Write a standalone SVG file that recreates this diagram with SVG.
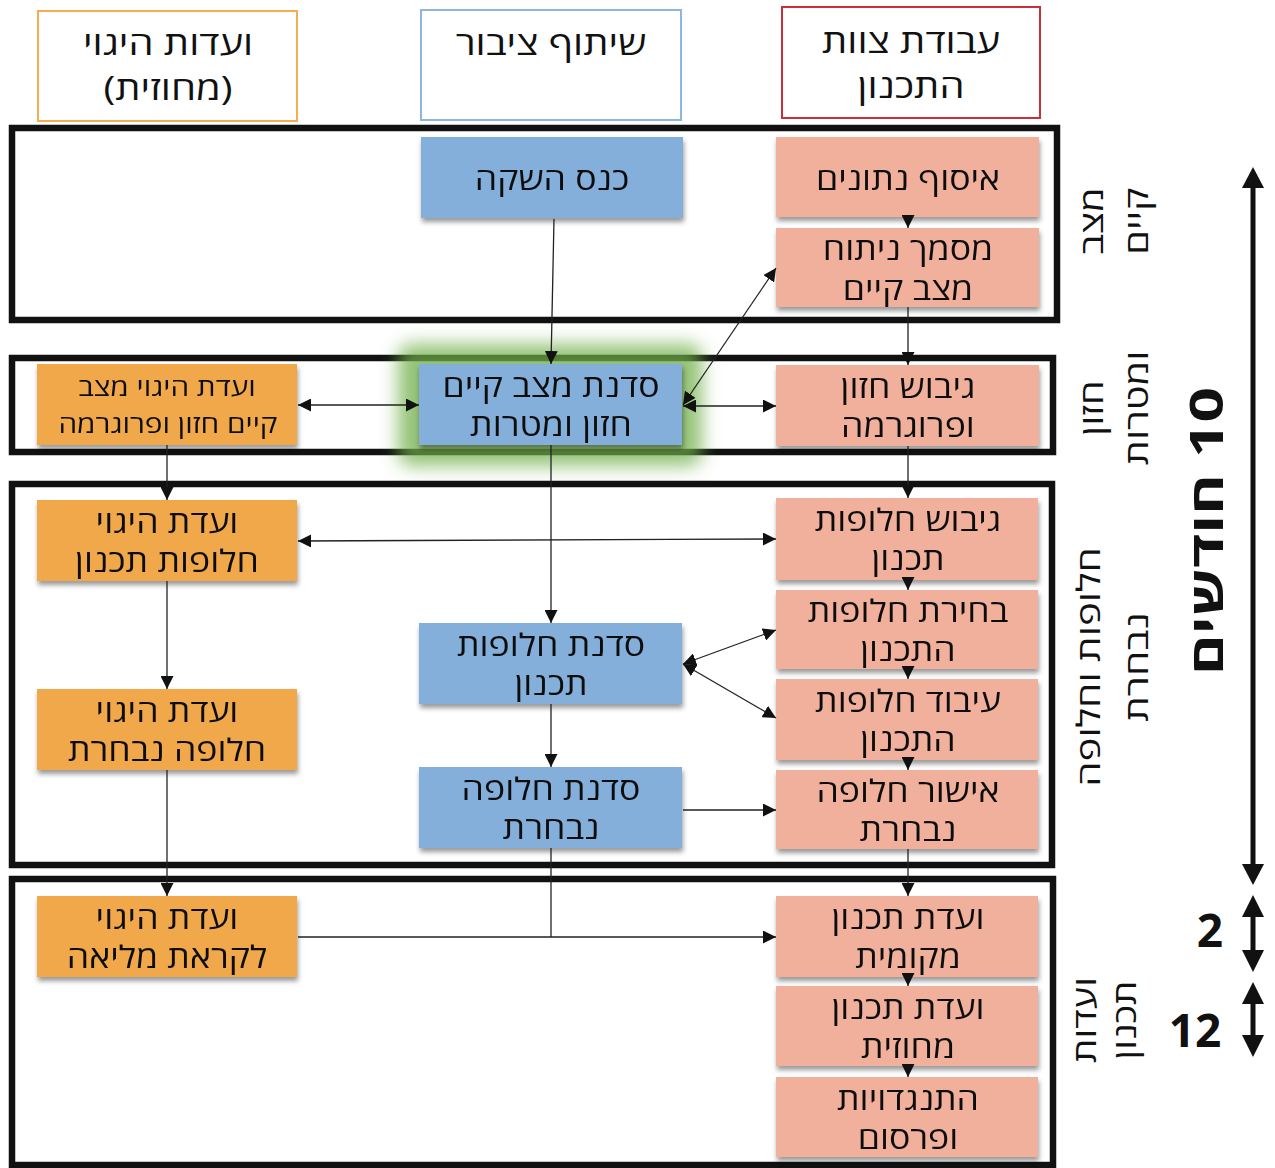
<svg xmlns="http://www.w3.org/2000/svg" width="1275" height="1168" viewBox="0 0 1275 1168">
<style>
.t{font-family:"Open Sans","Noto Sans Hebrew","DejaVu Sans",sans-serif;fill:#111;direction:rtl;text-anchor:middle}
.n{font-size:31px;transform-box:fill-box;transform-origin:center;transform:scaleX(1.15)}
.h{font-size:33px;transform-box:fill-box;transform-origin:center;transform:scaleX(1.21)}
.s{font-size:25px;transform-box:fill-box;transform-origin:center;transform:scaleX(1.19)}
.side{font-size:32px}
.big{font-size:46px;font-weight:bold}
.frame{fill:none;stroke:#111;stroke-width:6.5}
.sal{fill:#F1B09B}
.blu{fill:#83AFDA}
.org{fill:#F1A84B}
.c{fill:none;stroke:#222;stroke-width:1.3}
.bi{marker-start:url(#ah);marker-end:url(#ah)}
.one{marker-end:url(#ah)}
</style>
<defs>
<marker id="ah" viewBox="0 0 12 12" refX="12" refY="6" markerWidth="13" markerHeight="13" orient="auto-start-reverse" markerUnits="userSpaceOnUse"><path d="M0,0 L12,6 L0,12 z" fill="#111"/></marker>
<filter id="sh" x="-10%" y="-20%" width="125%" height="150%"><feDropShadow dx="1" dy="4" stdDeviation="2.5" flood-color="#000" flood-opacity="0.4"/></filter>
<filter id="glow" x="-30%" y="-60%" width="160%" height="220%"><feGaussianBlur stdDeviation="9"/></filter>
</defs>
<rect width="1275" height="1168" fill="#fff"/>

<g id="headers">
<g id="hdr-steering"><rect x="38" y="11" width="259" height="110" fill="#fff" stroke="#F4AD52" stroke-width="2"/><text class="t h" x="168" y="55">ועדות היגוי</text><text class="t h" x="168" y="100">(מחוזית)</text></g>
<g id="hdr-public"><rect x="421" y="10" width="260" height="110" fill="#fff" stroke="#8DB4E2" stroke-width="2"/><text class="t h" x="551" y="55">שיתוף ציבור</text></g>
<g id="hdr-team"><rect x="782" y="7" width="258" height="111" fill="#fff" stroke="#C9303E" stroke-width="2"/><text class="t h" x="911" y="53">עבודת צוות</text><text class="t h" x="911" y="98">התכנון</text></g>
</g>

<g id="frames">
<rect class="frame" x="12" y="128" width="1045" height="192"/>
<rect class="frame" x="12" y="358" width="1041" height="94"/>
<rect class="frame" x="12" y="484" width="1040" height="381"/>
<rect class="frame" x="12" y="879" width="1041" height="286"/>
</g>

<rect id="glow-halo" x="398" y="344" width="304" height="122" rx="14" fill="#6FAE4A" opacity="0.75" filter="url(#glow)"/>

<g id="nodes" filter="url(#sh)">
<g id="n-data"><rect class="sal" x="776" y="137" width="263" height="80"/><text class="t n" x="908" y="190">איסוף נתונים</text></g>
<g id="n-analysis"><rect class="sal" x="776" y="228" width="263" height="79"/><text class="t n" x="908" y="260">מסמך ניתוח</text><text class="t n" x="908" y="300">מצב קיים</text></g>
<g id="n-vision"><rect class="sal" x="776" y="365" width="263" height="81"/><text class="t n" x="908" y="398">גיבוש חזון</text><text class="t n" x="908" y="437">ופרוגרמה</text></g>
<g id="n-alts"><rect class="sal" x="776" y="498" width="262" height="82"/><text class="t n" x="908" y="531">גיבוש חלופות</text><text class="t n" x="908" y="570">תכנון</text></g>
<g id="n-choose"><rect class="sal" x="776" y="590" width="262" height="79"/><text class="t n" x="908" y="622">בחירת חלופות</text><text class="t n" x="908" y="661">התכנון</text></g>
<g id="n-process"><rect class="sal" x="776" y="679" width="262" height="81"/><text class="t n" x="908" y="712">עיבוד חלופות</text><text class="t n" x="908" y="751">התכנון</text></g>
<g id="n-approve"><rect class="sal" x="776" y="770" width="262" height="79"/><text class="t n" x="908" y="802">אישור חלופה</text><text class="t n" x="908" y="841">נבחרת</text></g>
<g id="n-local"><rect class="sal" x="776" y="896" width="262" height="81"/><text class="t n" x="908" y="929">ועדת תכנון</text><text class="t n" x="908" y="968">מקומית</text></g>
<g id="n-district"><rect class="sal" x="776" y="986" width="262" height="80"/><text class="t n" x="908" y="1019">ועדת תכנון</text><text class="t n" x="908" y="1058">מחוזית</text></g>
<g id="n-objections"><rect class="sal" x="776" y="1077" width="262" height="80"/><text class="t n" x="908" y="1110">התנגדויות</text><text class="t n" x="908" y="1149">ופרסום</text></g>

<g id="n-launch"><rect class="blu" x="421" y="137" width="262" height="81"/><text class="t n" x="552" y="190">כנס השקה</text></g>
<g id="n-ws-vision"><rect class="blu" x="419" y="364" width="263" height="81"/><text class="t n" x="551" y="397">סדנת מצב קיים</text><text class="t n" x="551" y="436">חזון ומטרות</text></g>
<g id="n-ws-alts"><rect class="blu" x="419" y="623" width="263" height="81"/><text class="t n" x="551" y="656">סדנת חלופות</text><text class="t n" x="551" y="695">תכנון</text></g>
<g id="n-ws-chosen"><rect class="blu" x="419" y="767" width="263" height="81"/><text class="t n" x="551" y="800">סדנת חלופה</text><text class="t n" x="551" y="839">נבחרת</text></g>

<g id="n-sc-vision"><rect class="org" x="37" y="364" width="260" height="81"/><text class="t s" x="167" y="396">ועדת היגוי מצב</text><text class="t s" x="168" y="433">קיים חזון ופרוגרמה</text></g>
<g id="n-sc-alts"><rect class="org" x="37" y="500" width="260" height="81"/><text class="t n" x="167" y="533">ועדת היגוי</text><text class="t n" x="167" y="572">חלופות תכנון</text></g>
<g id="n-sc-chosen"><rect class="org" x="37" y="689" width="260" height="81"/><text class="t n" x="167" y="722">ועדת היגוי</text><text class="t n" x="167" y="761">חלופה נבחרת</text></g>
<g id="n-sc-plenum"><rect class="org" x="37" y="896" width="260" height="81"/><text class="t n" x="167" y="929">ועדת היגוי</text><text class="t n" x="167" y="968">לקראת מליאה</text></g>
</g>

<g id="connectors">
<line class="c one" x1="554" y1="219" x2="551" y2="364"/>
<line class="c one" x1="908" y1="217" x2="908" y2="228"/>
<line class="c one" x1="908" y1="307" x2="908" y2="365"/>
<line class="c bi" x1="683" y1="405" x2="776" y2="268"/>
<line class="c bi" x1="683" y1="406" x2="776" y2="406"/>
<line class="c bi" x1="298" y1="405" x2="419" y2="405"/>
<line class="c one" x1="167" y1="445" x2="167" y2="500"/>
<line class="c one" x1="551" y1="445" x2="551" y2="623"/>
<line class="c bi" x1="298" y1="541" x2="776" y2="539"/>
<line class="c one" x1="908" y1="446" x2="908" y2="498"/>
<line class="c one" x1="908" y1="580" x2="908" y2="590"/>
<line class="c one" x1="908" y1="669" x2="908" y2="679"/>
<line class="c one" x1="908" y1="760" x2="908" y2="770"/>
<line class="c bi" x1="683" y1="664" x2="776" y2="630"/>
<line class="c bi" x1="683" y1="664" x2="776" y2="718"/>
<line class="c one" x1="551" y1="704" x2="551" y2="767"/>
<line class="c one" x1="683" y1="810" x2="776" y2="810"/>
<line class="c one" x1="167" y1="581" x2="167" y2="689"/>
<line class="c one" x1="167" y1="770" x2="167" y2="896"/>
<line class="c one" x1="908" y1="849" x2="908" y2="896"/>
<line class="c one" x1="298" y1="937" x2="776" y2="937"/>
<line class="c" x1="551" y1="848" x2="551" y2="937"/>
<line class="c one" x1="908" y1="977" x2="908" y2="986"/>
<line class="c one" x1="908" y1="1066" x2="908" y2="1077"/>
</g>

<g id="phase-labels">
<text class="t side" transform="translate(1103,221) rotate(-90) scale(1.24,1)"><tspan x="0" y="0">מצב</tspan><tspan x="0" y="45">קיים</tspan></text>
<text class="t side" transform="translate(1103,408) rotate(-90) scale(1.24,1)"><tspan x="0" y="0">חזון</tspan><tspan x="0" y="45">ומטרות</tspan></text>
<text class="t side" transform="translate(1100,667) rotate(-90) scale(1.26,1)"><tspan x="0" y="0">חלופות וחלופה</tspan><tspan x="0" y="48">נבחרת</tspan></text>
<text class="t side" transform="translate(1096,1020) rotate(-90) scale(1.2,1)"><tspan x="0" y="0">ועדות</tspan><tspan x="0" y="40">תכנון</tspan></text>
</g>

<g id="timeline">
<line x1="1253" y1="180" x2="1253" y2="872" stroke="#111" stroke-width="5"/>
<polygon points="1253,167 1242,188 1264,188" fill="#111"/>
<polygon points="1253,885 1242,864 1264,864" fill="#111"/>
<text class="t big" transform="translate(1223,531) rotate(-90) scale(1.35,1)">10 חודשים</text>
<line x1="1253" y1="910" x2="1253" y2="958" stroke="#111" stroke-width="5"/>
<polygon points="1253,895 1242,917 1264,917" fill="#111"/>
<polygon points="1253,972 1242,950 1264,950" fill="#111"/>
<text class="t big" x="1210" y="947">2</text>
<line x1="1253" y1="996" x2="1253" y2="1043" stroke="#111" stroke-width="5"/>
<polygon points="1253,982 1242,1004 1264,1004" fill="#111"/>
<polygon points="1253,1057 1242,1035 1264,1035" fill="#111"/>
<text class="t big" x="1195" y="1047">12</text>
</g>
</svg>
